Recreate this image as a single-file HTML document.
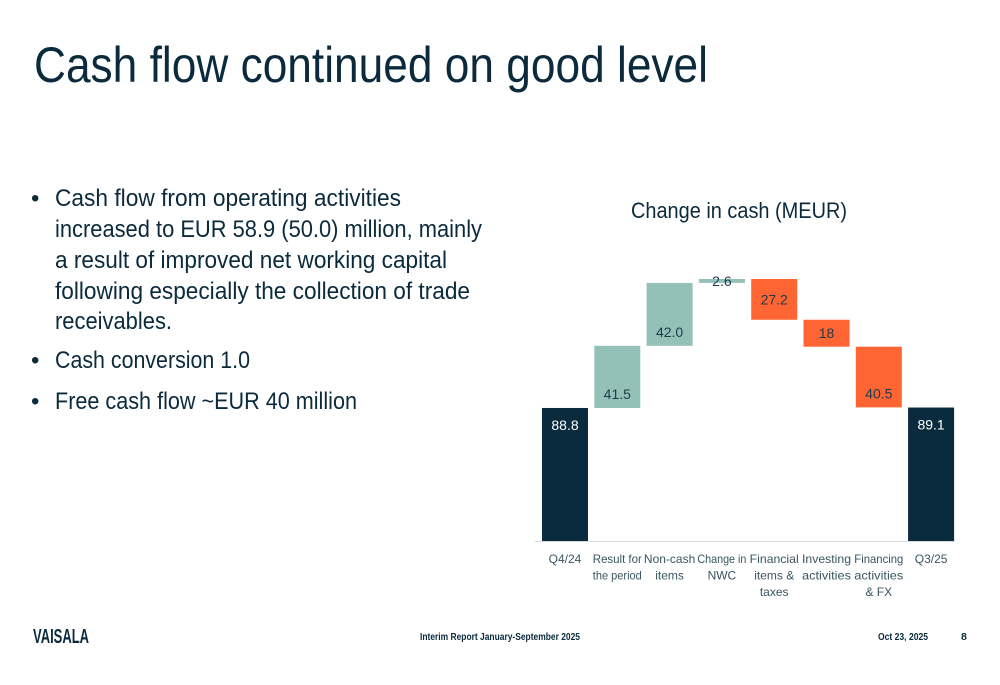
<!DOCTYPE html>
<html><head><meta charset="utf-8"><style>
html,body{margin:0;padding:0;background:#fff;width:1000px;height:685px;overflow:hidden}
svg{display:block;font-family:"Liberation Sans",sans-serif}
</style></head><body>
<svg id="s" width="1000" height="685" viewBox="0 0 1000 685">
<text x="34" y="82" font-size="50" fill="#0b2a3c" textLength="674" lengthAdjust="spacingAndGlyphs">Cash flow continued on good level</text>
<g fill="#0b2a3c" font-size="24">
<text x="31" y="206">•</text>
<text x="55" y="206" textLength="346" lengthAdjust="spacingAndGlyphs">Cash flow from operating activities</text>
<text x="55" y="237" textLength="427" lengthAdjust="spacingAndGlyphs">increased to EUR 58.9 (50.0) million, mainly</text>
<text x="55" y="268" textLength="392" lengthAdjust="spacingAndGlyphs">a result of improved net working capital</text>
<text x="55" y="299" textLength="415" lengthAdjust="spacingAndGlyphs">following especially the collection of trade</text>
<text x="55" y="329" textLength="117" lengthAdjust="spacingAndGlyphs">receivables.</text>
<text x="31" y="368">•</text>
<text x="55" y="368" textLength="195" lengthAdjust="spacingAndGlyphs">Cash conversion 1.0</text>
<text x="31" y="409">•</text>
<text x="55" y="409" textLength="302" lengthAdjust="spacingAndGlyphs">Free cash flow ~EUR 40 million</text>
</g>
<text x="739" y="218" font-size="22" fill="#0b2a3c" text-anchor="middle" textLength="216" lengthAdjust="spacingAndGlyphs">Change in cash (MEUR)</text>
<g id="chart"></g>
<text x="33" y="643" font-size="20" font-weight="bold" fill="#0b2a3c" textLength="56" lengthAdjust="spacingAndGlyphs">VAISALA</text>
<text x="420" y="640" font-size="10.5" font-weight="bold" fill="#0b2a3c" textLength="160" lengthAdjust="spacingAndGlyphs">Interim Report January-September 2025</text>
<text x="878" y="640" font-size="10.5" font-weight="bold" fill="#0b2a3c" textLength="50" lengthAdjust="spacingAndGlyphs">Oct 23, 2025</text>
<text x="961" y="640" font-size="10.5" font-weight="bold" fill="#0b2a3c">8</text>
</svg>
<script>
const categories = [["Q4/24"],["Result for","the period"],["Non-cash","items"],["Change in","NWC"],["Financial","items &","taxes"],["Investing","activities"],["Financing","activities","& FX"],["Q3/25"]];
const values = [88.8, 41.5, 42.0, 2.6, -27.2, -18, -40.5, 89.1];
const labels = ["88.8","41.5","42.0","2.6","27.2","18","40.5","89.1"];
const kinds = ["total","delta","delta","delta","delta","delta","delta","total"];
const NS="http://www.w3.org/2000/svg";
const g=document.getElementById('chart');
const y0=541, k=1.498, x0=565, step=52.3, bw=46;
const yS=v=>y0-v*k, xS=i=>x0+i*step;
function mk(t,a){const e=document.createElementNS(NS,t);for(const n in a)e.setAttribute(n,a[n]);g.appendChild(e);return e;}
const ax=mk('line',{x1:535,x2:955,y1:y0+0.5,y2:y0+0.5,stroke:'#d9d9d9','stroke-width':1});


let run=0;
values.forEach((v,i)=>{
  let a,b,fill,tc;
  if(kinds[i]==='total'){a=0;b=v;run=v;fill='#0a2a3d';tc='#fff';}
  else{a=run;b=run+v;run=b;fill=v>=0?'#93c1b8':'#fe6532';tc='#1e3a4a';}
  const top=yS(Math.max(a,b)), bot=yS(Math.min(a,b)), h=Math.max(bot-top,1);
  const r=mk('rect',{x:xS(i)-bw/2,y:top,width:bw,height:h,fill:fill});
  
  
  let ly;
  if(kinds[i]==='total') ly=top+22;
  else if(h>50) ly=bot-9;
  else ly=(top+bot)/2+5;
  const t=mk('text',{x:xS(i),y:ly,'text-anchor':'middle','font-size':14,fill:tc});
  t.textContent=labels[i];
  
  
  categories[i].forEach((ln,j)=>{
    const c=mk('text',{x:xS(i),y:563+j*16.5,'text-anchor':'middle','font-size':12,fill:'#3a5563'});
    c.textContent=ln;
    if(ln.length>8) c.setAttribute('textLength', Math.min(ln.length*6.1, 49));
    if(ln.length>8) c.setAttribute('lengthAdjust','spacingAndGlyphs');
    
    
  });
});
</script>
</body></html>
